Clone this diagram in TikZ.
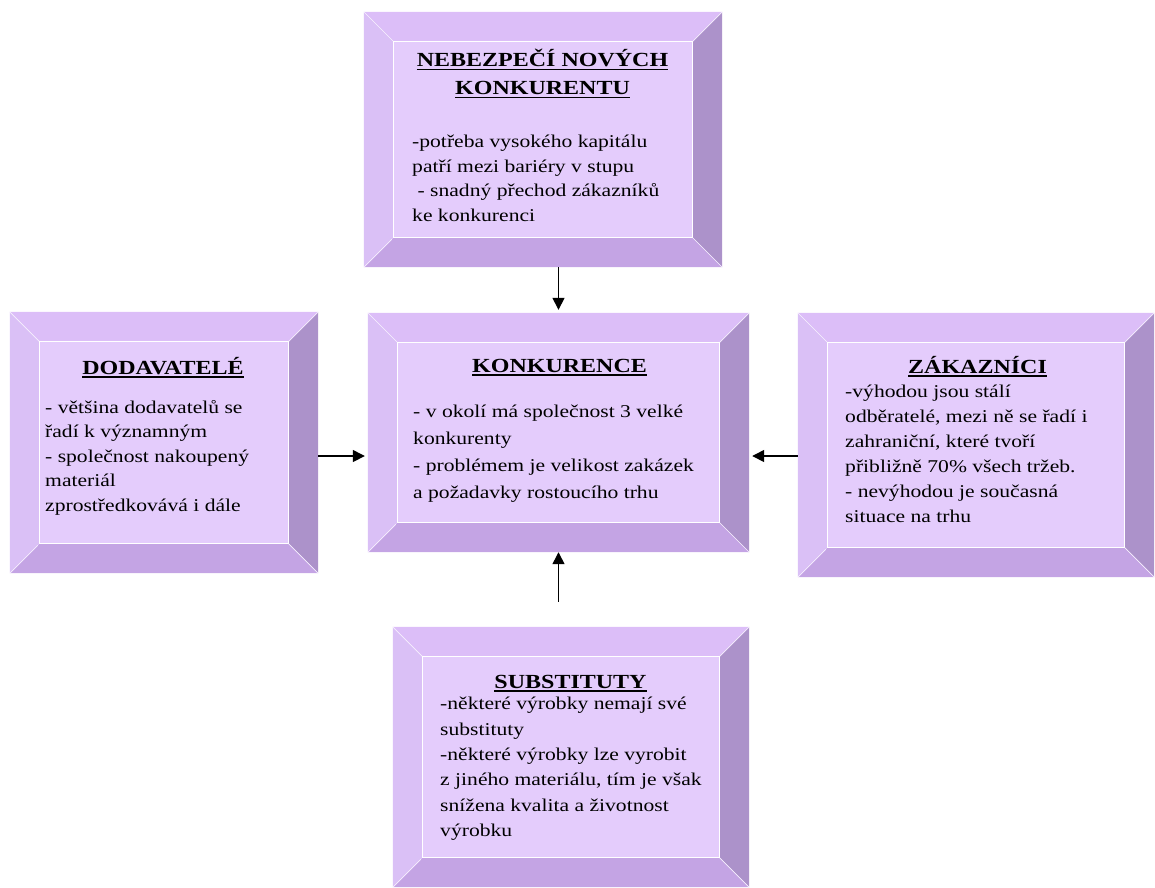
\documentclass[tikz,border=0pt]{standalone}
\usepackage{fontspec}
\setmainfont{Liberation Serif}[FakeStretch=1.2]
\newcommand\titleline[1]{\setbox0\hbox{#1}\rlap{\rule[-3.5pt]{\wd0}{1.3pt}}\box0}
\usetikzlibrary{
  arrows.meta,
  calc,
  fit,
  positioning,
}
\definecolor{bevelface}{HTML}{E4CCFC}
\definecolor{beveltop}{HTML}{DCBEF8}
\definecolor{bevelleft}{HTML}{DAC0F6}
\definecolor{bevelright}{HTML}{AC92CA}
\definecolor{bevelbottom}{HTML}{C4A4E4}
\tikzset{
  >={Triangle[length=12pt,width=12pt]},
  shorten >=3pt,
  panel/.style={inner sep=0pt, draw=none},
  seam/.style={white!70!bevelface, line width=0.7pt},
  heading/.style={font=\fontsize{20}{28}\selectfont\bfseries, inner sep=0pt, align=center},
  bodytext/.style={font=\fontsize{18}{24.5}\selectfont, inner sep=0pt, align=left, anchor=north west},
  force/.style={line width=1.4pt, ->},
}
\newcommand\bevelpanel[3]{%
  \node [panel, fit={#2 #3}] (#1) {};
  \coordinate (#1-a) at ($(#1.north west)+(30,30)$);
  \coordinate (#1-b) at ($(#1.north east)+(-30,30)$);
  \coordinate (#1-c) at ($(#1.south east)+(-30,-30)$);
  \coordinate (#1-d) at ($(#1.south west)+(30,-30)$);
  \fill [beveltop] (#1.north west) -- (#1.north east) -- (#1-b) -- (#1-a) -- cycle;
  \fill [bevelright] (#1.north east) -- (#1.south east) -- (#1-c) -- (#1-b) -- cycle;
  \fill [bevelbottom] (#1.south east) -- (#1.south west) -- (#1-d) -- (#1-c) -- cycle;
  \fill [bevelleft] (#1.south west) -- (#1.north west) -- (#1-a) -- (#1-d) -- cycle;
  \draw [seam] (#1.north west) -- (#1-a) (#1.north east) -- (#1-b)
    (#1.south east) -- (#1-c) (#1.south west) -- (#1-d);
  \draw [white, line width=0.9pt, fill=bevelface] (#1-a) rectangle (#1-c);
}

\begin{document}
\begin{tikzpicture}[x=1pt, y=-1pt]
      \useasboundingbox (0,0) rectangle (1155,887);
      \bevelpanel{nebez}{(364,12)}{(722,267)}
      \bevelpanel{dod}{(10,312)}{(318,573)}
      \bevelpanel{konk}{(368,313)}{(749,552)}
      \bevelpanel{zak}{(798,313)}{(1154,577)}
      \bevelpanel{subst}{(393,627)}{(749,887)}

      \node [heading, anchor=north] (nebez-title) at (542.5,49) {
        \titleline{NEBEZPEČÍ NOVÝCH} \\ \titleline{KONKURENTU}
      };
      \node [bodytext] (nebez-text) at (412,135) {
        -potřeba vysokého kapitálu \\
        patří mezi bariéry v stupu \\
        \ - snadný přechod zákazníků \\
        ke konkurenci
      };

      \node [heading, anchor=base] (dod-title) at (163,374) {\titleline{DODAVATELÉ}};
      \node [bodytext] (dod-text) at (45,400) {
        - většina dodavatelů se \\
        řadí k významným \\
        - společnost nakoupený \\
        materiál \\
        zprostředkovává i dále
      };

      \node [heading, anchor=base] (konk-title) at (559.5,372) {\titleline{KONKURENCE}};
      \node [bodytext, font=\fontsize{18}{27}\selectfont] (konk-text) at (413,405) {
        - v okolí má společnost 3 velké \\
        konkurenty \\
        - problémem je velikost zakázek \\
        a požadavky rostoucího trhu
      };

      \node [heading, anchor=base] (zak-title) at (977.5,373) {\titleline{ZÁKAZNÍCI}};
      \node [bodytext, font=\fontsize{18}{25}\selectfont] (zak-text) at (845,385) {
        -výhodou jsou stálí \\
        odběratelé, mezi ně se řadí i \\
        zahraniční, které tvoří \\
        přibližně 70\% všech tržeb. \\
        - nevýhodou je současná \\
        situace na trhu
      };

      \node [heading, anchor=base] (subst-title) at (570.5,688) {\titleline{SUBSTITUTY}};
      \node [bodytext, font=\fontsize{18}{25.4}\selectfont] (subst-text) at (440,697) {
        -některé výrobky nemají své \\
        substituty \\
        -některé výrobky lze vyrobit \\
        z jiného materiálu, tím je však \\
        snížena kvalita a životnost \\
        výrobku
      };

      \coordinate (konk-in-left) at ($(konk.west)+(0,23.5)$);
      \coordinate (konk-in-right) at ($(konk.east)+(0,23.5)$);
      \draw [force] (konk.north |- nebez.south) -- (konk.north);
      \draw [force] (dod.east |- konk-in-left) -- (konk-in-left);
      \draw [force] (zak.west |- konk-in-right) -- (konk-in-right);
      \draw [force, shorten <=25pt, shorten >=0pt] (konk.south |- subst.north) -- (konk.south);
    \end{tikzpicture}
\end{document}
